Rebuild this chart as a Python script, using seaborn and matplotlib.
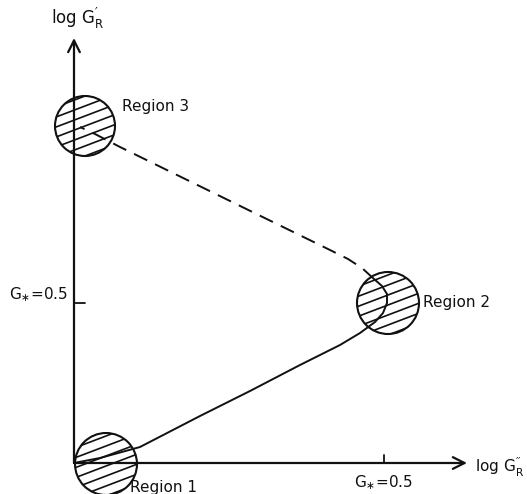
import numpy as np
import pandas as pd
import matplotlib
matplotlib.use("Agg")
import matplotlib.pyplot as plt
from matplotlib.patches import Circle
from matplotlib.lines import Line2D
import seaborn as sns

# Trajectory in the log G'' / log G' plane (schematic units, origin at axes corner)
solid_x = [0, 26, 66, 126, 176, 226, 266, 286, 301, 309, 313, 313, 308, 300]
solid_y = [0, 5, 16, 47, 72, 98, 118, 130, 141, 150, 160, 169, 177, 184]
dashed_x = [300, 288, 274, 256, 156, 46, 21, 6]
dashed_y = [184, 195, 204, 213, 262, 316, 329, 336]

# Regions: centre x, centre y, radius
region_names = ["Region 1", "Region 2", "Region 3"]
region_cx = [32, 314, 11]
region_cy = [-1, 160, 337]
region_r = [31, 31, 30]

# Reference level G* = 0.5 on each axis
tick_x = 310
tick_y = 160
tick_label = r"$\mathregular{G_{\ast}}$=0.5"

sns.set_theme(style="white")
plt.rcParams["font.family"] = ["DejaVu Sans"]

fig = plt.figure(figsize=(5.27, 4.94), dpi=100)
ax = fig.add_axes([0, 0, 1, 1])

ink = "#111111"

# trajectory
solid = pd.DataFrame({"x": solid_x, "y": solid_y})
dashed = pd.DataFrame({"x": dashed_x, "y": dashed_y})
sns.lineplot(data=solid, x="x", y="y", sort=False, estimator=None,
             color=ink, lw=1.4, ax=ax)
sns.lineplot(data=dashed, x="x", y="y", sort=False, estimator=None,
             color=ink, lw=1.4, ax=ax)
ax.lines[-1].set_linestyle((0, (7.5, 4.5)))

ax.set_xlim(-74, 453)
ax.set_ylim(-31, 463)
ax.set_xlabel("")
ax.set_ylabel("")
ax.axis("off")

# axes with open arrowheads
arrow = dict(arrowstyle="->,head_length=0.7,head_width=0.35", color=ink, lw=1.6,
             shrinkA=0, shrinkB=0)
ax.annotate("", xy=(393, 0), xytext=(0, 0), arrowprops=arrow)
ax.annotate("", xy=(0, 425), xytext=(0, 0), arrowprops=arrow)

# reference ticks
ax.plot([tick_x, tick_x], [0, 8], color=ink, lw=1.3)
ax.plot([0, 11], [tick_y, tick_y], color=ink, lw=1.3)

# hatched regions
slope = 0.38
spacing = 10.0
for cx, cy, r in zip(region_cx, region_cy, region_r):
    circ = Circle((cx, cy), r, facecolor="none", edgecolor=ink, lw=1.5, zorder=4)
    ax.add_patch(circ)
    clip = Circle((cx, cy), r, transform=ax.transData, facecolor="none", edgecolor="none")
    ax.add_patch(clip)
    offsets = np.arange(-2 * r, 2 * r + spacing, spacing)
    for b in offsets:
        xs = np.array([cx - r - 5, cx + r + 5])
        ys = cy + b + slope * (xs - cx)
        ln = Line2D(xs, ys, color=ink, lw=1.2, zorder=3)
        ax.add_line(ln)
        ln.set_clip_path(clip)

# labels
fs = 11
ax.text(48, 356, region_names[2], fontsize=fs, ha="left", va="center", color=ink)
ax.text(349, 161, region_names[1], fontsize=fs, ha="left", va="center", color=ink)
ax.text(56, -24, region_names[0], fontsize=fs, ha="left", va="center", color=ink)

ax.text(tick_x, -20, tick_label, fontsize=fs, ha="center", va="center", color=ink)
ax.text(-6, 168, tick_label, fontsize=fs, ha="right", va="center", color=ink)

ax.text(401, -4, r"log $\mathregular{G_R^{\prime\prime}}$", fontsize=fs,
        ha="left", va="center", color=ink)
ax.text(4, 445, r"log $\mathregular{G_R^{\prime}}$", fontsize=fs + 1,
        ha="center", va="center", color=ink)

fig.savefig("out.png", dpi=100, facecolor="white")
